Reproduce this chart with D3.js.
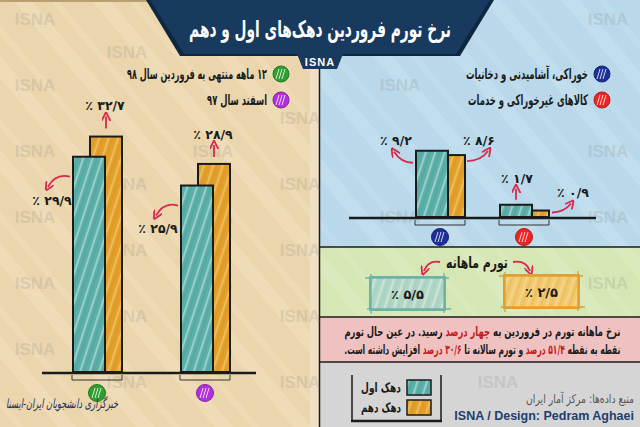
<!DOCTYPE html>
<html><head><meta charset="utf-8">
<script src="https://cdn.jsdelivr.net/npm/d3@7"></script>
<style>
html,body{margin:0;padding:0;background:#fff;}
#wrap{position:relative;width:640px;height:427px;overflow:hidden;}
svg{display:block;position:absolute;left:0;top:0;}
.note{position:absolute;white-space:nowrap;direction:rtl;unicode-bidi:embed;
  font-family:'DejaVu Sans',sans-serif;font-weight:bold;font-size:13px;color:#1b1b1b;line-height:15px;}
.note .hl{color:#c41a1a;}
</style></head>
<body>
<div id="wrap"><svg id="c" width="640" height="427"></svg></div>
<script>
// ---------------- data ----------------
const leftGroups = ["g12", "esfand"];
const leftGroupLabels = ["۱۲ ماهه منتهی به فروردین سال ۹۸", "اسفند سال ۹۷"];
const leftFirstDecile = [29.9, 25.9];
const leftTenthDecile = [32.7, 28.9];

const rightGroups = ["food", "nonfood"];
const rightGroupLabels = ["خوراکی، آشامیدنی و دخانیات", "کالاهای غیرخوراکی و خدمات"];
const rightFirstDecile = [9.2, 1.7];
const rightTenthDecile = [8.6, 0.9];

const monthlyLabels = ["دهک اول", "دهک دهم"];
const monthlyValues = [5.5, 2.5];

const seriesNames = ["دهک اول", "دهک دهم"];
const title = "نرخ تورم فروردین دهک‌های اول و دهم";
const monthlyTitle = "تورم ماهانه";
const noteLines = [
  [["نرخ ماهانه تورم در فروردین به ", 0], ["چهار درصد", 1], [" رسید. در عین حال تورم", 0]],
  [["نقطه به نقطه ", 0], ["۵۱/۴ درصد", 1], [" و تورم سالانه تا ", 0], ["۳۰/۶ درصد", 1], [" افزایش داشته است.", 0]]
];

// ---------------- helpers ----------------
const faDigits = "۰۱۲۳۴۵۶۷۸۹";
const toFa = s => String(s).replace(/[0-9]/g, d => faDigits[+d]);
const pct = v => "٪ " + toFa(v.toFixed(1).replace(".", "/"));
const rtl = s => "\u202B" + s + "\u202C";
function fit(sel, w){
  const L = sel.node().getComputedTextLength();
  if (L > 0) {
    const x = +sel.attr("x"), s = w / L;
    sel.attr("transform", `translate(${x},0) scale(${s},1) translate(${-x},0)`);
  }
  return sel;
}

const svg = d3.select("#c");
const FA = "'DejaVu Sans', sans-serif";
const C = {teal:"#5cb0a9", orange:"#e3a12b", beige:"#ebd5ad", blue:"#b9d8ea", green:"#d5e7b4",
           pink:"#efc2c1", grey:"#d5d5d5", navy:"#173a5e", red:"#d8284e", ink:"#1b1b1b"};

// ---------------- defs ----------------
const defs = svg.append("defs");
function hatch(id, base, l1, l2){
  const p = defs.append("pattern").attr("id", id).attr("patternUnits","userSpaceOnUse")
    .attr("width", 9).attr("height", 9).attr("patternTransform","rotate(18)");
  p.append("rect").attr("width",9).attr("height",9).attr("fill",base);
  p.append("line").attr("x1",2).attr("y1",0).attr("x2",2).attr("y2",9).attr("stroke",l1).attr("stroke-width",1.3).attr("opacity",0.75);
  p.append("line").attr("x1",6).attr("y1",0).attr("x2",6).attr("y2",9).attr("stroke",l2).attr("stroke-width",0.8).attr("opacity",0.6);
}
hatch("hTeal", C.teal, "#d9f0ea", "#3f8f89");
hatch("hOrange", C.orange, "#f7d590", "#c98412");
hatch("hTealLight", "#b2d6c6", "#e5f3ea", "#8fc2b3");
hatch("hOrangeLight", "#f1c96f", "#f8e0a4", "#dca23a");
function stripes(id, base, light){
  const p = defs.append("pattern").attr("id", id).attr("patternUnits","userSpaceOnUse")
    .attr("width", 60).attr("height", 60).attr("patternTransform","rotate(-40)");
  p.append("rect").attr("width",60).attr("height",60).attr("fill",base);
  p.append("rect").attr("x",10).attr("width",14).attr("height",60).attr("fill",light).attr("opacity",0.35);
  p.append("rect").attr("x",38).attr("width",6).attr("height",60).attr("fill",light).attr("opacity",0.3);
}
stripes("bgBeige", C.beige, "#f5e6c8");
stripes("bgBlue", C.blue, "#cfe6f3");
stripes("bgGreen", C.green, "#e4f0cc");
defs.append("marker").attr("id","arr").attr("viewBox","0 0 10 10").attr("refX",5).attr("refY",5)
  .attr("markerWidth",5).attr("markerHeight",5).attr("orient","auto-start-reverse")
  .append("path").attr("d","M0,0 L10,5 L0,10").attr("fill","none").attr("stroke",C.red).attr("stroke-width",2);

// ---------------- backgrounds ----------------
svg.append("rect").attr("x",0).attr("y",0).attr("width",320).attr("height",427).attr("fill","url(#bgBeige)");
svg.append("rect").attr("x",310).attr("y",0).attr("width",9).attr("height",427).attr("fill","#f0dfc0");
svg.append("rect").attr("x",320).attr("y",0).attr("width",320).attr("height",247).attr("fill","url(#bgBlue)");
svg.append("rect").attr("x",320).attr("y",247).attr("width",320).attr("height",70).attr("fill","url(#bgGreen)");
svg.append("rect").attr("x",320).attr("y",317).attr("width",320).attr("height",45).attr("fill",C.pink);
svg.append("rect").attr("x",320).attr("y",362).attr("width",320).attr("height",65).attr("fill",C.grey);
svg.append("line").attr("x1",0).attr("x2",320).attr("y1",1).attr("y2",1).attr("stroke","#b99e72").attr("stroke-width",2);
svg.append("line").attr("x1",319.5).attr("x2",319.5).attr("y1",40).attr("y2",427).attr("stroke",C.ink).attr("stroke-width",1.5);
[247, 317, 362].forEach(y => svg.append("line").attr("x1",320).attr("x2",640).attr("y1",y).attr("y2",y)
  .attr("stroke",C.ink).attr("stroke-width",1.5));

// watermarks (decorative)
const wm = svg.append("g").attr("font-family","'Liberation Sans', Arial, sans-serif").attr("font-weight","bold")
  .attr("font-size",17).attr("fill","#8a8a8a").attr("opacity",0.2).attr("text-anchor","middle");
[[35,0],[213,0],[400,0],[608,0],[127,1],[300,1],[498,1]].forEach(([x,o]) => {
  for (let k = 0; k < 7; k++) {
    const y = 25 + o*33 + k*66;
    if (y > 420) continue;
    if (y < 70 && x > 140 && x < 500) continue;
    wm.append("text").attr("class","wm").attr("x",x).attr("y",y).text("ISNA");
  }
});

// ---------------- title banner ----------------
svg.append("polygon").attr("points","146,0 494,0 460,56 180,56").attr("fill","#0e2740");
svg.append("polygon").attr("points","150,0 490,0 456,54 184,54").attr("fill",C.navy);
svg.append("polygon").attr("points","297,54 343,54 337,69 303,69").attr("fill",C.navy);
fit(svg.append("text").attr("x",320).attr("y",37).attr("text-anchor","middle").attr("fill","#fff")
  .attr("font-family",FA).attr("font-weight","bold").attr("font-size",23).text(rtl(title)), 262);
svg.append("text").attr("x",320).attr("y",66).attr("text-anchor","middle").attr("fill","#fff")
  .attr("font-family","'Liberation Sans', Arial, sans-serif").attr("font-weight","bold").attr("font-size",11)
  .attr("letter-spacing",1).text("ISNA");

// ---------------- generic bar chart ----------------
function drawChart(opt){
  const g = svg.append("g");
  const x = d3.scalePoint().domain(opt.groups).range(opt.xRange);
  const y = d3.scaleLinear().domain([0, 40]).range([opt.base, opt.base - 288]);
  const rows = opt.groups.map((k,i) => ({k, i, first: opt.first[i], tenth: opt.tenth[i]}));
  g.selectAll("rect.t").data(rows).join("rect")
    .attr("x", d => x(d.k) - 7).attr("width", 32)
    .attr("y", d => y(d.tenth)).attr("height", d => y(0) - y(d.tenth))
    .attr("fill","url(#hOrange)").attr("stroke",C.ink).attr("stroke-width",2);
  g.selectAll("rect.f").data(rows).join("rect")
    .attr("x", d => x(d.k) - 24).attr("width", 32)
    .attr("y", d => y(d.first)).attr("height", d => y(0) - y(d.first))
    .attr("fill","url(#hTeal)").attr("stroke",C.ink).attr("stroke-width",2);
  g.append("line").attr("x1",opt.axis[0]).attr("x2",opt.axis[1]).attr("y1",y(0)+1).attr("y2",y(0)+1)
    .attr("stroke",C.ink).attr("stroke-width",2.5);
  rows.forEach(d => {
    const c = x(d.k);
    g.append("path").attr("d",`M${c-25},${y(0)+3}V${y(0)+8}H${c+25}V${y(0)+3}`)
      .attr("fill","none").attr("stroke","#333").attr("stroke-width",1);
    const cc = g.append("g");
    cc.append("circle").attr("cx",c).attr("cy",y(0)+opt.circleDy).attr("r",8.5).attr("fill",opt.colors[d.i])
      .attr("stroke",d3.color(opt.colors[d.i]).darker(0.8)).attr("stroke-width",1);
    [-3,0,3].forEach(o => cc.append("path")
      .attr("d",`M${c+o-2},${y(0)+opt.circleDy+5}L${c+o+1},${y(0)+opt.circleDy-5}`)
      .attr("stroke","#fff").attr("stroke-width",1).attr("opacity",0.8));
  });
  opt.labels.forEach(L => {
    const d = rows[L.i];
    const v = L.s === "first" ? d.first : d.tenth;
    const top = y(v);
    const c = x(d.k);
    const ax = c + L.ax, ay = top + L.ay;
    g.append("path").attr("d", `M${ax},${ay} Q${ax+L.q[0]},${ay+L.q[1]} ${ax+L.e[0]},${ay+L.e[1]}`)
      .attr("fill","none").attr("stroke",C.red).attr("stroke-width",1.8).attr("marker-end","url(#arr)");
    g.append("text").attr("x", c + L.tx).attr("y", top + L.ty).attr("text-anchor","middle")
      .attr("font-family",FA).attr("font-weight","bold").attr("font-size",12.5).attr("fill",C.ink)
      .text(pct(v));
  });
}

drawChart({
  groups: leftGroups, first: leftFirstDecile, tenth: leftTenthDecile,
  xRange: [97, 205], base: 372, axis: [42, 256], circleDy: 21,
  colors: ["#2f9e2f", "#b030dc"],
  labels: [
    {i:0, s:"tenth", ax:9, ay:-8, q:[0,-6], e:[0,-12], tx:8, ty:-27},
    {i:0, s:"first", ax:-27, ay:20, q:[-14,-4], e:[-22,10], tx:-45, ty:48},
    {i:1, s:"tenth", ax:9, ay:-7, q:[0,-6], e:[0,-12], tx:8, ty:-25},
    {i:1, s:"first", ax:-27, ay:20, q:[-14,-4], e:[-22,10], tx:-47, ty:47}
  ]
});
drawChart({
  groups: rightGroups, first: rightFirstDecile, tenth: rightTenthDecile,
  xRange: [440, 524], base: 217, axis: [349, 596], circleDy: 20,
  colors: ["#1d2f98", "#ee2424"],
  labels: [
    {i:0, s:"first", ax:-27, ay:12, q:[-12,0], e:[-19,-11], tx:-44, ty:-6},
    {i:0, s:"tenth", ax:27, ay:6, q:[14,0], e:[21,-10], tx:39, ty:-10},
    {i:1, s:"first", ax:-8, ay:-5, q:[0,-6], e:[0,-11], tx:-7, ty:-22},
    {i:1, s:"tenth", ax:28, ay:2, q:[12,0], e:[19,-9], tx:49, ty:-14}
  ]
});

// ---------------- legends top ----------------
function legendItem(cx, cy, color, label, w){
  svg.append("circle").attr("cx",cx).attr("cy",cy).attr("r",8).attr("fill",color)
    .attr("stroke",d3.color(color).darker(0.8)).attr("stroke-width",1);
  [-3,0,3].forEach(o => svg.append("path").attr("d",`M${cx+o-2},${cy+5}L${cx+o+1},${cy-5}`)
    .attr("stroke","#fff").attr("stroke-width",1).attr("opacity",0.8));
  fit(svg.append("text").attr("x",cx-14).attr("y",cy+5).attr("text-anchor","end")
    .attr("font-family",FA).attr("font-weight","bold").attr("font-size",14.5).attr("fill",C.ink).text(rtl(label)), w);
}
legendItem(281, 74, "#2f9e2f", leftGroupLabels[0], 140);
legendItem(281, 100, "#b030dc", leftGroupLabels[1], 60);
legendItem(602, 74, "#1d2f98", rightGroupLabels[0], 122);
legendItem(602, 100, "#ee2424", rightGroupLabels[1], 120);

// ---------------- monthly section ----------------
fit(svg.append("text").attr("x",477).attr("y",268).attr("text-anchor","middle").attr("font-family",FA)
  .attr("font-weight","bold").attr("font-size",16).attr("fill",C.ink).text(rtl(monthlyTitle)), 62);
svg.append("path").attr("d","M440,262 Q428,260 424,271").attr("fill","none").attr("stroke",C.red)
  .attr("stroke-width",1.8).attr("marker-end","url(#arr)");
svg.append("path").attr("d","M513,262 Q526,260 530,271").attr("fill","none").attr("stroke",C.red)
  .attr("stroke-width",1.8).attr("marker-end","url(#arr)");
const mBoxes = [
  {x:370, y:277, w:75, h:33, fill:"url(#hTealLight)", stroke:"#6db3a4"},
  {x:504, y:275, w:75, h:33, fill:"url(#hOrangeLight)", stroke:"#dea033"}
];
mBoxes.forEach((b, i) => {
  svg.append("rect").attr("x",b.x).attr("y",b.y).attr("width",b.w).attr("height",b.h)
    .attr("fill",b.fill).attr("stroke",b.stroke).attr("stroke-width",2);
  svg.append("path").attr("d",`M${b.x-5},${b.y+1}H${b.x+b.w+4}M${b.x-3},${b.y+b.h-1}H${b.x+b.w+6}M${b.x+1},${b.y-3}V${b.y+b.h+4}M${b.x+b.w-1},${b.y-4}V${b.y+b.h+3}`)
    .attr("stroke",b.stroke).attr("stroke-width",1.3).attr("fill","none");
  svg.append("text").attr("x",b.x+b.w/2).attr("y",b.y+b.h/2+5).attr("text-anchor","middle")
    .attr("font-family",FA).attr("font-weight","bold").attr("font-size",13).attr("fill",C.ink)
    .text(pct(monthlyValues[i]));
});

// ---------------- note (pink) — HTML for reliable bidi ----------------
const wrap = d3.select("#wrap");
noteLines.forEach((ln, j) => {
  const div = wrap.append("div").attr("class","note").style("top", (324 + j*18) + "px").style("left","0px");
  ln.forEach(([s, hl]) => div.append("span").attr("class", hl ? "hl" : null).text(s));
  const w = div.node().getBoundingClientRect().width;
  const target = 276, cx = 482;
  div.style("left", (cx - w/2) + "px").style("transform", `scaleX(${target / w})`).style("transform-origin","center");
});

// ---------------- bottom legend ----------------
svg.append("path").attr("d","M352,375 V421 H441 V375").attr("fill","none").attr("stroke",C.ink).attr("stroke-width",1.5);
svg.append("line").attr("x1",351).attr("x2",442).attr("y1",421).attr("y2",421).attr("stroke",C.ink).attr("stroke-width",2.5);
[["url(#hTeal)", 380], ["url(#hOrange)", 400]].forEach(([f, yy], i) => {
  svg.append("rect").attr("x",407).attr("y",yy).attr("width",24).attr("height",15).attr("fill",f)
    .attr("stroke",C.ink).attr("stroke-width",1.5);
  fit(svg.append("text").attr("x",401).attr("y",yy+12).attr("text-anchor","end").attr("font-family",FA)
    .attr("font-weight","bold").attr("font-size",13).attr("fill",C.ink).text(rtl(seriesNames[i])), 40);
});
fit(svg.append("text").attr("x",634).attr("y",403).attr("text-anchor","end").attr("font-family",FA)
  .attr("font-size",12).attr("fill","#555").text(rtl("منبع داده‌ها: مرکز آمار ایران")), 108);
svg.append("text").attr("x",634).attr("y",420).attr("text-anchor","end")
  .attr("font-family","'Liberation Sans', Arial, sans-serif").attr("font-weight","bold")
  .attr("font-size",12.5).attr("fill","#1d3f6e").text("ISNA / Design: Pedram Aghaei");

// agency script (bottom left)
fit(svg.append("text").attr("x",118).attr("y",408).attr("text-anchor","end").attr("font-family",FA)
  .attr("font-size",13).attr("font-style","italic").attr("fill","#1d2f5e").text(rtl("خبرگزاری دانشجویان ایران-ایسنا")), 112);

// drop decorative watermarks that would collide with real text
const boxes = [];
svg.selectAll("text").filter(function(){ return !this.classList.contains("wm"); })
  .each(function(){ boxes.push(this.getBoundingClientRect()); });
wrap.selectAll(".note").each(function(){ boxes.push(this.getBoundingClientRect()); });
wm.selectAll("text").each(function(){
  const r = this.getBoundingClientRect();
  if (boxes.some(b => r.left < b.right && r.right > b.left && r.top < b.bottom && r.bottom > b.top)) d3.select(this).remove();
});
</script>
</body></html>
